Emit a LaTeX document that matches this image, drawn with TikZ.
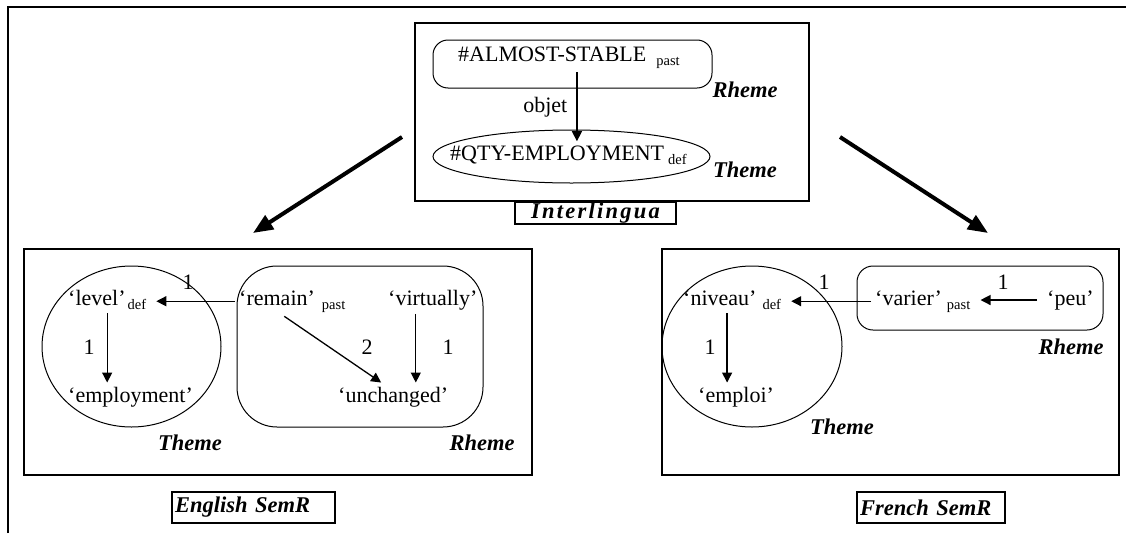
\documentclass[tikz,border=0pt]{standalone}
\usepackage{fontspec}
\setmainfont{Liberation Serif}
\usepackage{tikz}
\usetikzlibrary{arrows.meta,shapes.geometric}
\tikzset{
  panel/.style={draw,line width=1.3pt,inner sep=0pt},
  rbox/.style={draw,line width=1pt,rounded corners=#1,inner sep=0pt},
  ell/.style={draw,ellipse,line width=1pt,inner sep=0pt},
  wd/.style={inner xsep=4pt,inner ysep=4pt,anchor=base west,font=\fontsize{22}{26}\selectfont},
  num/.style={inner sep=0pt,font=\fontsize{22}{26}\selectfont},
  tag/.style={inner sep=0pt,font=\fontsize{22.5}{26}\selectfont\bfseries\itshape},
  tagbox/.style={draw,line width=1.3pt,inner xsep=3pt,inner ysep=0pt,font=\fontsize{22.5}{26}\selectfont\bfseries\itshape},
  arr/.style={line width=1.3pt,-{Triangle[length=10pt,width=10pt]}},
  bigarr/.style={line width=4pt,-{Triangle[length=20pt,width=16pt]}}
}
\newcommand{\sbs}[2][3pt]{\hspace{#1}\raisebox{-4pt}{\fontsize{14.5}{15}\selectfont #2}}
\begin{document}
\begin{tikzpicture}[x=1pt,y=-1pt]
\useasboundingbox (0,0) rectangle (1126,533);
\draw[line width=1.3pt] (8,533) -- (8,7) -- (1126,7);
% interlingua
\node[panel,minimum width=394pt,minimum height=178pt] (ilpanel) at (612,112) {};
\node[tagbox,minimum width=161pt,minimum height=22pt] (iltag) at (595.5,213) {\addfontfeature{LetterSpace=10}Interlingua};
\node[rbox=15pt,minimum width=279pt,minimum height=48pt] (ilrheme) at (572.5,64) {};
\node[ell,minimum width=277pt,minimum height=53pt] (iltheme) at (571.5,156.5) {};
\node[wd] (almost) at (454,61) {\#ALMOST-STABLE\sbs[10pt]{past}};
\node[wd] (qty) at (446,160) {\#QTY-EMPLOYMENT\sbs[4pt]{def}};
\draw[arr] ([xshift=8pt]almost.south) -- node[num,left=9pt] (objet) {objet} ([xshift=8pt]almost.south |- qty.north);
\node[tag] (ilrh) at (745,90) {Rheme}; \node[tag] (ilth) at (745,170) {Theme};
\coordinate (ilL) at (402,137); \coordinate (enT) at (253,233);
\coordinate (ilR) at (840,137); \coordinate (frT) at (988,233);
\draw[bigarr] (ilL) -- (enT); \draw[bigarr] (ilR) -- (frT);
% english
\node[panel,minimum width=508pt,minimum height=226pt] (enpanel) at (278,362) {};
\node[tagbox,minimum width=163pt,minimum height=31pt,text width=157pt,align=left] (entag) at (253.5,507.5) {English SemR};
\node[ell,minimum width=179pt,minimum height=161pt] (entheme) at (131.5,346.5) {};
\node[rbox=40pt,minimum width=246pt,minimum height=161pt] (enrheme) at (360,346.5) {};
\node[wd] (level) at (64,305) {‘level’\sbs[2pt]{def}};
\node[wd] (employment) at (64,402) {‘employment’};
\node[wd] (remain) at (235,305) {‘remain’\sbs[7pt]{past}};
\node[wd] (virtually) at (384,305) {‘virtually’};
\node[wd] (unchanged) at (334,402) {‘unchanged’};
\draw[arr] (level.south) -- (level.south |- employment.north);
\draw[arr,shorten >=6pt] (remain.west) -- (remain.west -| level.east);
\draw[arr] ([xshift=-8pt]remain.south) -- ([xshift=-12pt]unchanged.north);
\draw[arr] ([xshift=-17pt]virtually.south) -- ([xshift=-17pt]virtually.south |- unchanged.north);
\node[num] (en1) at (89,347) {1}; \node[num] (en2) at (188,282) {1};
\node[num] (en3) at (367,347) {2}; \node[num] (en4) at (448,347) {1};
\node[tag] (enth) at (190,443) {Theme}; \node[tag] (enrh) at (482,443) {Rheme};
% french
\node[panel,minimum width=457pt,minimum height=226pt] (frpanel) at (890.5,362) {};
\node[tagbox,minimum width=148pt,minimum height=31pt,text width=142pt,align=left] (frtag) at (931,507.5) {French SemR};
\node[ell,minimum width=180pt,minimum height=161pt] (frtheme) at (752,346.5) {};
\node[rbox=16pt,minimum width=246pt,minimum height=64pt] (frrheme) at (980,298) {};
\node[wd] (niveau) at (679,305) {‘niveau’\sbs[6pt]{def}};
\node[wd] (emploi) at (694,402) {‘emploi’};
\node[wd] (varier) at (871,305) {‘varier’\sbs[5pt]{past}};
\node[wd] (peu) at (1043,305) {‘peu’};
\draw[arr] ([xshift=-5pt]niveau.south) -- ([xshift=-5pt]niveau.south |- emploi.north);
\draw[arr,shorten >=6pt] (varier.west) -- (varier.west -| niveau.east);
\draw[arr,shorten >=12pt] ([xshift=-6pt]peu.west) -- ([xshift=-6pt]peu.west -| varier.east);
\node[num] (fr1) at (710,347) {1}; \node[num] (fr2) at (824,282) {1};
\node[num] (fr3) at (1003,282) {1};
\node[tag] (frrh) at (1071,347) {Rheme}; \node[tag] (frth) at (842,427) {Theme};
\end{tikzpicture}
\end{document}
